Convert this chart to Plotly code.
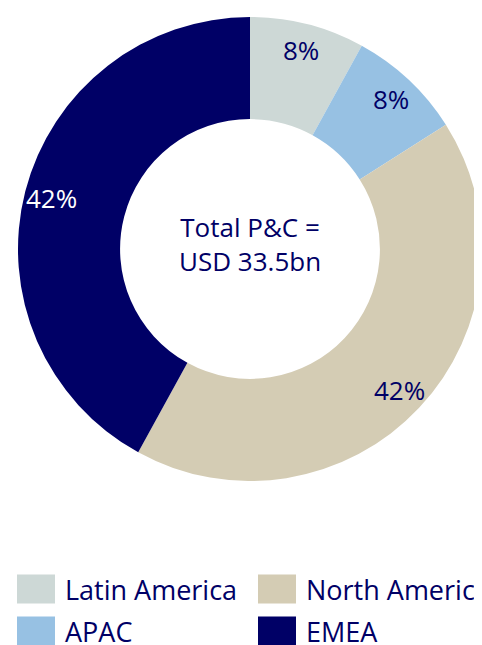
import math
import plotly.graph_objects as go

regions = ["Latin America", "APAC", "North America", "EMEA"]
shares = [8, 8, 42, 42]
colors = ["#CDD8D6", "#97C1E3", "#D4CCB4", "#000066"]
label_colors = ["#000066", "#000066", "#000066", "#FFFFFF"]
center_lines = ["Total P&C =", "USD 33.5bn"]
legend_rows = [["Latin America", "North America"], ["APAC", "EMEA"]]

FONT = "Open Sans"
NAVY = "#000066"
# the page body keeps an 8px margin, so the figure is 8px smaller than the window
W, H = 474, 637

# pie geometry (figure pixels, from top-left)
CX, CY, R = 242, 241, 232
HOLE = 0.56

fig = go.Figure()
fig.add_trace(go.Pie(
    labels=regions,
    values=shares,
    sort=False,
    direction="clockwise",
    rotation=0,
    hole=HOLE,
    marker=dict(colors=colors, line=dict(width=0)),
    textinfo="none",
    showlegend=False,
    domain=dict(x=[(CX - R) / W, (CX + R) / W], y=[(H - CY - R) / H, (H - CY + R) / H]),
    hoverinfo="label+percent",
))

# percentage labels placed along each slice's mid-angle, near the outer rim
total = sum(shares)
cum = 0.0
for name, v, tc in zip(regions, shares, label_colors):
    mid = (cum + v / 2) / total
    cum += v
    ang = 2 * math.pi * mid
    rl = 0.885 * R
    px = CX + rl * math.sin(ang)
    py = CY - rl * math.cos(ang)
    fig.add_annotation(x=px / W, y=(H - py) / H, xref="paper", yref="paper",
                       text=f"{round(100 * v / total)}%", showarrow=False,
                       xanchor="center", yanchor="middle",
                       font=dict(family=FONT, size=26, color=tc))

fig.add_annotation(
    x=CX / W, y=(H - (CY - 5)) / H, xref="paper", yref="paper",
    text="<br>".join(center_lines), showarrow=False,
    font=dict(family=FONT, size=26, color=NAVY), align="center",
)

# manual legend (2 columns x 2 rows)
col_x = [9, 250]
row_y = [581, 623]
color_of = dict(zip(regions, colors))
for r, row in enumerate(legend_rows):
    for c, name in enumerate(row):
        x0 = col_x[c]
        yc = row_y[r]
        fig.add_shape(type="rect", xref="paper", yref="paper",
                      x0=x0 / W, x1=(x0 + 38) / W,
                      y0=(H - (yc + 14.5)) / H, y1=(H - (yc - 14.5)) / H,
                      fillcolor=color_of[name], line=dict(width=0))
        fig.add_annotation(x=(x0 + 46) / W, y=(H - yc) / H, xref="paper", yref="paper",
                           text=name, showarrow=False, xanchor="left", yanchor="middle",
                           font=dict(family=FONT, size=27, color=NAVY))

fig.update_layout(
    width=W, height=H,
    margin=dict(l=0, r=0, t=0, b=0),
    paper_bgcolor="white", plot_bgcolor="white",
)

fig.write_html("out.html")
